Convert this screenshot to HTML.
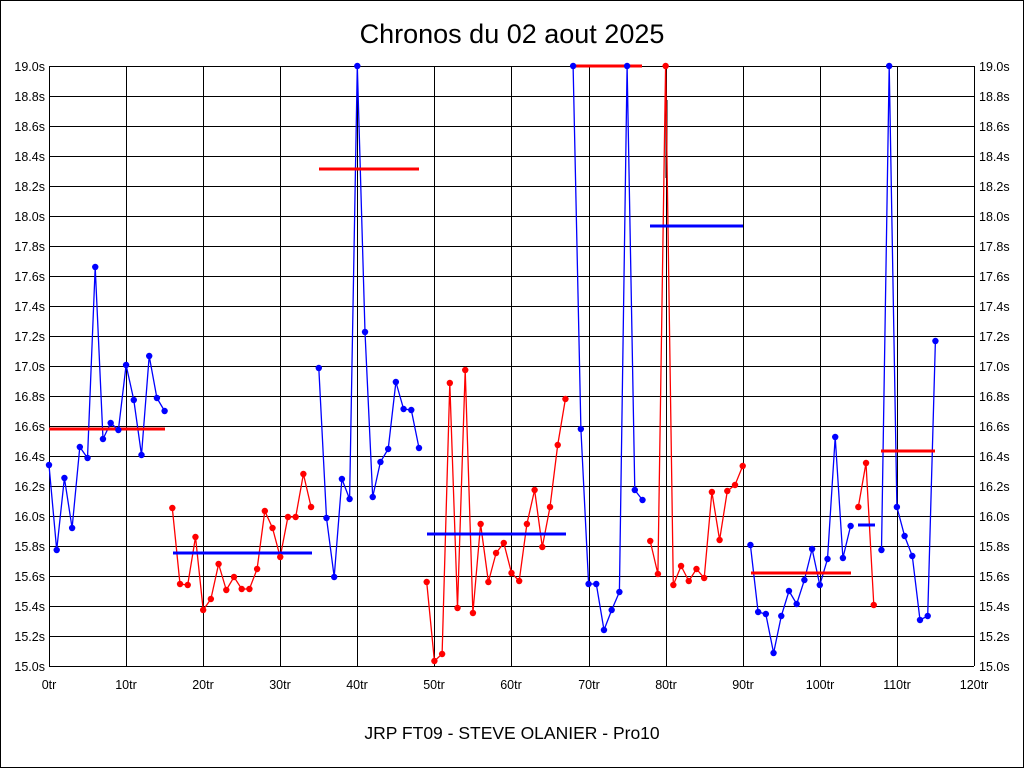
<!DOCTYPE html>
<html><head><meta charset="utf-8"><style>
html,body{margin:0;padding:0;background:#fff;}
svg{display:block;font-family:"Liberation Sans",Arial,sans-serif;}
</style></head><body>
<svg id="s" width="1024" height="768" viewBox="0 0 1024 768" xmlns="http://www.w3.org/2000/svg">
<rect x="0.5" y="0.5" width="1023" height="767" fill="#fff" stroke="#000"/>
<text x="512" y="43" font-size="27" text-anchor="middle">Chronos du 02 aout 2025</text>
<g id="grid" stroke="#000" stroke-width="1"></g>
<g font-size="12.5" fill="#000">
<g text-anchor="end">
<text x="45" y="71">19.0s</text><text x="45" y="101">18.8s</text><text x="45" y="131">18.6s</text><text x="45" y="161">18.4s</text><text x="45" y="191">18.2s</text><text x="45" y="221">18.0s</text><text x="45" y="251">17.8s</text><text x="45" y="281">17.6s</text><text x="45" y="311">17.4s</text><text x="45" y="341">17.2s</text><text x="45" y="371">17.0s</text><text x="45" y="401">16.8s</text><text x="45" y="431">16.6s</text><text x="45" y="461">16.4s</text><text x="45" y="491">16.2s</text><text x="45" y="521">16.0s</text><text x="45" y="551">15.8s</text><text x="45" y="581">15.6s</text><text x="45" y="611">15.4s</text><text x="45" y="641">15.2s</text><text x="45" y="671">15.0s</text>
</g>
<g text-anchor="start">
<text x="979" y="71">19.0s</text><text x="979" y="101">18.8s</text><text x="979" y="131">18.6s</text><text x="979" y="161">18.4s</text><text x="979" y="191">18.2s</text><text x="979" y="221">18.0s</text><text x="979" y="251">17.8s</text><text x="979" y="281">17.6s</text><text x="979" y="311">17.4s</text><text x="979" y="341">17.2s</text><text x="979" y="371">17.0s</text><text x="979" y="401">16.8s</text><text x="979" y="431">16.6s</text><text x="979" y="461">16.4s</text><text x="979" y="491">16.2s</text><text x="979" y="521">16.0s</text><text x="979" y="551">15.8s</text><text x="979" y="581">15.6s</text><text x="979" y="611">15.4s</text><text x="979" y="641">15.2s</text><text x="979" y="671">15.0s</text>
</g>
<g text-anchor="middle">
<text x="49" y="689">0tr</text><text x="126" y="689">10tr</text><text x="203" y="689">20tr</text><text x="280" y="689">30tr</text><text x="357" y="689">40tr</text><text x="434" y="689">50tr</text><text x="511" y="689">60tr</text><text x="589" y="689">70tr</text><text x="666" y="689">80tr</text><text x="743" y="689">90tr</text><text x="820" y="689">100tr</text><text x="897" y="689">110tr</text><text x="974" y="689">120tr</text>
</g>
</g>
<text x="512" y="739" font-size="17.5" text-anchor="middle">JRP FT09 - STEVE OLANIER - Pro10</text>
<g id="data"></g>
</svg>
<script>
var NS="http://www.w3.org/2000/svg";
function el(p,t,a){var e=document.createElementNS(NS,t);for(var k in a)e.setAttribute(k,a[k]);p.appendChild(e);return e;}
var g=document.getElementById("grid");
for(var i=0;i<=20;i++){var y=66+i*30;el(g,"line",{x1:49,x2:974,y1:y+0.5,y2:y+0.5});}
for(var i=0;i<=12;i++){var x=Math.round(49+i*77.08);el(g,"line",{x1:x+0.5,x2:x+0.5,y1:66,y2:666});}
var d=document.getElementById("data");
function X(i){return 49+i*7.708;}
var segs=[
 ["#0000ff",0,[465,550,478,528,447,458,267,439,423,430,365,400,455,356,398,411]],
 ["#ff0000",16,[508,584,585,537,610,599,564,590,577,589,589,569,511,528,557,517,517,474,507]],
 ["#0000ff",35,[368,518,577,479,499,66,332,497,462,449,382,409,410,448]],
 ["#ff0000",49,[582,661,654,383,608,370,613,524,582,553,543,573,581,524,490,547,507,445,399]],
 ["#0000ff",68,[66,429,584,584,630,610,592,66,490,500]],
 ["#ff0000",78,[541,574,66,585,566,581,569,578,492,540,491,485,466]],
 ["#0000ff",91,[545,612,614,653,616,591,604,580,549,585,559,437,558,526]],
 ["#ff0000",105,[507,463,605]],
 ["#0000ff",108,[550,66,507,536,556,620,616,341]]
];
var means=[["#ff0000",49,165,429],["#0000ff",173,312,553],["#ff0000",319,419,169],["#0000ff",427,566,534],["#ff0000",572,642,66],["#0000ff",650,743,226],["#ff0000",751,851,573],["#0000ff",858,875,525],["#ff0000",881,935,451]];
el(d,"line",{x1:666.5,x2:666.5,y1:100,y2:178,stroke:"#000","stroke-width":2});
segs.forEach(function(s){
 var pts=s[2].map(function(y,k){return X(s[1]+k).toFixed(1)+","+y;}).join(" ");
 el(d,"polyline",{points:pts,fill:"none",stroke:s[0],"stroke-width":1.3});
});
means.forEach(function(m){el(d,"line",{x1:m[1],x2:m[2],y1:m[3],y2:m[3],stroke:m[0],"stroke-width":3});});
segs.forEach(function(s){
 s[2].forEach(function(y,k){el(d,"circle",{cx:X(s[1]+k),cy:y,r:3.2,fill:s[0]});});
});
</script>
</body></html>
